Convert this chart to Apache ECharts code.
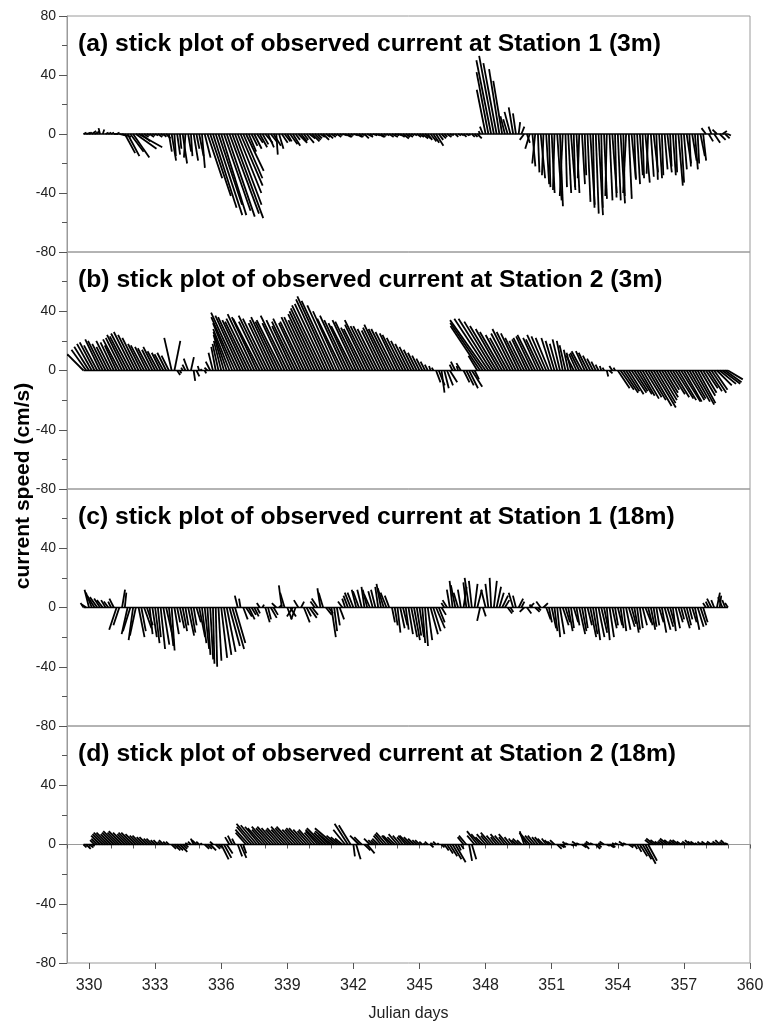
<!DOCTYPE html>
<html>
<head>
<meta charset="utf-8">
<title>stick plot</title>
<script src="https://cdn.jsdelivr.net/npm/echarts@6/dist/echarts.min.js"></script>
<style>
  html, body { margin: 0; padding: 0; background: #fff; }
  #chart { width: 775px; height: 1025px; }
</style>
</head>
<body>
<div id="chart"></div>
<script>
// sampling times (Julian day), one stick every 3 hours
const times = [];
for (let i = 0; i < 235; i++) times.push(329.75 + i * 0.125);

const titles = [
  "(a) stick plot of observed current at Station 1 (3m)",
  "(b) stick plot of observed current at Station 2 (3m)",
  "(c) stick plot of observed current at Station 1 (18m)",
  "(d) stick plot of observed current at Station 2 (18m)"
];

const dayTicks = [330, 333, 336, 339, 342, 345, 348, 351, 354, 357, 360];

// (a) Station 1, 3m : east (u) and north (v) components, cm/s, one row per day
const uA = [2, 3,
  2, 3, 2, 1, -1, 1, 2, 2,
  2, 3, 2, 4, 6, 7, 8, 9,
  11, 14, 16, 6, 3, 2, 3, 2,
  2, 3, 2, 2, 3, 2, 3, 1,
  2, 1, 3, -1, 2, 1, 3, 2,
  3, 2, 4, 10, 14, 16, 18, 16,
  17, 18, 19, 20, 21, 18, 16, 15,
  13, 12, 5, 4, 5, 4, 5, 4,
  5, 4, 4, 5, 1, 3, 4, 4,
  3, 5, 5, 3, 6, 4, 3, 5,
  4, 5, 4, 3, 3, 4, 3, 3,
  3, 2, 3, 2, 3, 4, 3, 2,
  3, 4, 3, 2, 3, 4, 2, 3,
  3, 4, 3, 2, 2, 3, 4, 3,
  3, 3, 4, 3, 3, 2, 2, 3,
  3, 4, 4, 3, 4, 4, 5, 3,
  3, 2, 3, 2, 1, 2, 2, 2,
  2, 2, 1, 2, 2, 3, -1, -2,
  -6, -8, -10, -10, -9, -7, -6, -3,
  -3, -4, -3, -2, 1, 2, -3, 2,
  -3, 2, -2, 1, 3, -1, 2, 1,
  2, -1, 3, 2, -2, 1, 2, 3,
  1, 2, -1, 2, 1, 2, 3, 1,
  2, 3, 1, 2, -1, 2, 3, 1,
  2, 3, 1, -2, 2, 3, 1, 2,
  2, 1, 3, -1, 2, 3, 1, 2,
  1, 2, 3, 1, 2, 1, 3, 2,
  2, 3, 1, 3, 2, 1, 3, 2,
  -3, 3, -2, 4, -3, 4, 3, 3,
  2];
const vA = [1, 1,
  1, 2, 1, 2, 4, 3, 1, 1,
  1, 0, 1, -1, -2, -13, -15, -12,
  -16, -10, -9, -5, -2, -1, -2, -1,
  -1, -2, -1, -2, -3, -12, -18, -15,
  -14, -10, -20, -16, -12, -15, -18, -10,
  -15, -23, -16, -30, -42, -50, -55, -48,
  -55, -52, -56, -54, -57, -48, -40, -35,
  -30, -25, -12, -8, -10, -6, -9, -7,
  -6, -9, -5, -8, -14, -10, -6, -5,
  -5, -7, -8, -4, -6, -5, -4, -6,
  -3, -5, -4, -3, -2, -4, -2, -3,
  -2, -1, -2, -1, -1, -2, -2, -1,
  -1, -2, -2, -1, -3, -2, -1, -1,
  -1, -2, -2, -1, -1, -2, -2, -1,
  -1, -2, -3, -2, -2, -1, -1, -2,
  -2, -3, -3, -4, -5, -6, -8, -4,
  -3, -2, -2, -1, -1, -2, -1, -1,
  -2, -1, -1, -2, -2, -3, 2, 5,
  30, 42, 50, 53, 48, 44, 36, 12,
  10, 15, 18, 14, 8, 5, -4, -6,
  -10, -22, -20, -26, -30, -28, -34, -36,
  -40, -38, -45, -49, -42, -36, -40, -38,
  -36, -40, -30, -34, -28, -46, -48, -50,
  -54, -55, -50, -44, -42, -45, -40, -43,
  -45, -47, -42, -40, -44, -31, -30, -34,
  -28, -30, -33, -27, -29, -26, -31, -30,
  -28, -24, -26, -22, -28, -26, -35, -33,
  -24, -20, -22, -18, -24, -20, -15, -18,
  4, -5, 5, -6, 3, -4, 2, -3,
  -1];

// (b) Station 2, 3m
const uB = [-11, -10,
  -10, -10, -10, -9, -10, -10, -9, -8,
  -10, -9, -8, -11, -11, -12, -12, -13,
  -13, -12, -11, -9, -9, -8, -8, -7,
  -8, -7, -6, -6, -6, -5, -5, 4,
  2, 1, -1, -2, -3, 2, 1, 2,
  -1, -1, 1, -2, -3, -3, -3, -4,
  -5, -7, -9, -11, -13, -16, -18, -17,
  -17, -16, -16, -17, -18, -17, -18, -16,
  -18, -17, -15, -16, -17, -16, -17, -15,
  -18, -16, -14, -16, -17, -15, -16, -17,
  -17, -16, -18, -19, -20, -21, -21, -22,
  -23, -22, -20, -18, -17, -17, -16, -15,
  -15, -16, -16, -14, -14, -15, -17, -15,
  -15, -14, -13, -14, -15, -14, -14, -13,
  -12, -12, -11, -10, -9, -8, -7, -6,
  -5, -4, -3, -2, -1, -1, 3, 4,
  2, 3, 4, 5, -2, -3, -1, -3,
  4, 5, 6, 7, 3, -6, -20, -22,
  -24, -23, -22, -20, -18, -16, -15, -13,
  -12, -13, -14, -13, -12, -11, -10, -10,
  -11, -11, -12, -10, -10, -11, -10, -9,
  -7, -6, -5, -5, -4, -4, -3, -3,
  -5, -5, -6, -7, -6, -6, -5, -4,
  -3, -2, -1, -1, 1, 2, -2, -1,
  8, 9, 10, 9, 10, 10, 9, 10,
  10, 11, 11, 12, 14, 15, 13, 12,
  11, 9, 8, 10, 11, 12, 12, 13,
  12, 12, 11, 12, 13, 12, 10, 9,
  8, 9, 10, 9, 10, 11, 12, 11,
  10];
const vB = [11, 14,
  16, 18, 19, 17, 21, 20, 18, 16,
  20, 19, 17, 21, 22, 24, 23, 25,
  26, 24, 22, 18, 17, 16, 15, 14,
  16, 13, 12, 11, 12, 10, 22, 20,
  -3, -2, 2, 4, 8, 9, -7, -4,
  3, 1, -2, 2, 6, 12, 16, 18,
  20, 24, 26, 28, 32, 36, 39, 37,
  36, 34, 33, 35, 38, 36, 35, 33,
  37, 35, 32, 34, 36, 33, 34, 32,
  37, 34, 30, 33, 35, 32, 33, 36,
  36, 34, 38, 40, 42, 44, 45, 48,
  50, 47, 44, 40, 35, 37, 34, 32,
  30, 34, 33, 29, 28, 31, 34, 30,
  30, 28, 27, 29, 31, 28, 28, 26,
  25, 24, 22, 20, 18, 16, 14, 12,
  10, 8, 6, 4, 3, 2, -8, -10,
  -15, -12, -10, -8, 4, 6, 3, 5,
  -8, -10, -12, -11, -6, 10, 30, 32,
  34, 35, 35, 33, 30, 28, 26, 24,
  22, 25, 28, 26, 25, 22, 20, 21,
  22, 23, 24, 22, 21, 24, 23, 22,
  22, 20, 18, 21, 20, 17, 14, 12,
  10, 11, 12, 13, 13, 12, 10, 8,
  6, 4, 3, 2, -4, -2, 3, 2,
  -12, -13, -15, -14, -16, -15, -14, -16,
  -17, -19, -18, -20, -24, -25, -22, -20,
  -18, -15, -13, -16, -18, -19, -20, -21,
  -21, -20, -19, -21, -23, -22, -17, -15,
  -12, -14, -15, -13, -10, -9, -9, -8,
  -6];

// (c) Station 1, 18m
const uC = [-2, -3,
  -3, -4, -5, -5, -4, -4, -3, -3,
  -2, -3, -5, -4, 2, 1, -4, -5,
  -3, -4, 4, 3, 5, 4, 2, 3,
  3, 2, 3, 4, 5, 3, 2, 3,
  2, 3, 3, 2, 4, 3, 2, 3,
  4, 3, 3, 2, 2, 1, 1, 2,
  4, 5, 6, 7, 8, 7, -2, -1,
  3, 4, 4, 3, 3, 2, -2, 1,
  3, 2, 4, 3, -3, 2, -2, -3,
  3, 4, -4, -3, -3, 2, 4, 3,
  5, 4, -3, -4, -2, -3, 4, 3,
  3, 2, 2, 3, -3, -2, -3, -4,
  -4, -3, -4, -3, -2, -3, -4, -3,
  -3, -2, -3, -4, -4, -3, 2, 2,
  2, 3, 3, 2, 3, 4, 4, 3,
  3, 2, 2, 3, 5, 5, 6, 4,
  3, -2, -3, -2, -2, -3, -3, -2,
  2, -2, -3, -2, 2, 3, -2, 2,
  -3, -2, -1, 2, 3, 3, 4, 3,
  3, 2, -3, -2, 3, 2, -3, 3,
  3, -2, 3, 2, -3, 3, 3, 2,
  3, 2, 2, 3, 4, 3, 3, 2,
  3, 2, 4, 3, 2, 3, 4, 3,
  3, 4, 4, 3, 2, 3, 3, 2,
  3, 2, 2, 3, 4, 3, 3, 2,
  2, 3, 4, 3, 3, 2, 2, 3,
  3, 4, 4, 3, 2, 3, 3, 2,
  4, 3, 2, 3, 3, 4, 4, 3,
  -2, -2, -3, -2, 2, 1, -3, -2,
  -2];
const vC = [3, 2,
  12, 10, 8, 7, 6, 5, 5, 4,
  4, 6, -15, -12, 12, 10, -18, -16,
  -22, -19, -20, -16, -14, -12, -18, -20,
  -24, -20, -28, -25, -22, -26, -29, -18,
  -10, -14, -16, -12, -19, -17, -12, -10,
  -20, -24, -28, -32, -35, -38, -40, -36,
  -34, -32, -30, -26, -28, -24, 8, 6,
  -8, -6, -8, -5, -6, -4, 3, 2,
  -10, -8, -7, -5, 3, 2, 15, 10,
  -8, -6, -6, -8, 5, 4, -10, -6,
  -7, -5, 4, 6, 13, 10, -5, -4,
  -20, -16, -12, -8, 4, 6, 8, 10,
  10, 12, 11, 12, 14, 12, 9, 11,
  12, 14, 16, 13, 10, 8, -10, -12,
  -17, -14, -12, -15, -18, -20, -22, -19,
  -20, -24, -26, -22, -18, -16, -14, -10,
  -5, 3, 5, 12, 18, 15, 10, 12,
  14, 17, 20, 18, 16, 12, -9, -6,
  12, 16, 20, 18, 14, 10, 8, 5,
  -4, -3, 10, 8, 6, 4, -3, -4,
  3, 2, -3, -2, 4, 3, -8, -10,
  -14, -16, -20, -18, -12, -10, -16, -14,
  -10, -12, -18, -16, -14, -12, -20, -18,
  -22, -20, -17, -15, -22, -20, -14, -12,
  -12, -14, -16, -15, -13, -11, -17, -15,
  -14, -12, -10, -12, -15, -13, -12, -10,
  -17, -15, -13, -11, -16, -14, -10, -8,
  -14, -12, -8, -10, -15, -13, -12, -10,
  3, 4, 6, 5, 10, 8, 7, 5,
  3];

// (d) Station 2, 18m
const uD = [2, 3,
  3, 2, -3, -4, -6, -7, -8, -8,
  -7, -8, -9, -8, -9, -8, -7, -8,
  -8, -7, -6, -6, -5, -5, -4, -4,
  -3, -3, -2, -3, -2, -2, 3, 4,
  4, 5, 3, 2, -2, -2, -2, -3,
  -2, -1, 3, 3, 4, -2, 3, 2,
  5, 5, 4, -3, -3, -2, 3, 4,
  2, -7, -9, -10, -12, -11, -10, -10,
  -9, -11, -10, -11, -10, -9, -10, -9,
  -11, -10, -11, -9, -9, -10, -10, -9,
  -8, -9, -7, -8, -10, -11, -8, -7,
  -11, -13, -7, -6, -5, -8, -9, -8,
  1, 3, -6, -5, 4, 5, -4, -3,
  -3, -4, -5, -6, -7, -5, -6, -5,
  -6, -5, -4, -5, -6, -5, -4, -3,
  -3, -2, -1, -2, 2, -2, -2, -1,
  2, 3, 4, 5, 6, 7, 2, 2,
  -4, -5, 2, 3, -5, -7, -6, -5,
  -6, -5, -7, -5, -4, -6, -5, -4,
  -6, -4, -3, -3, -4, -3, -3, -5,
  -6, -5, -5, -4, -4, -4, -3, -3,
  -3, -3, 3, 3, 2, -2, -2, 2,
  2, -3, -2, 3, 3, -2, -3, -2,
  3, 2, -2, -3, 2, 3, 2, -2,
  -2, 2, -3, -2, 3, 2, 2, 3,
  5, 6, 7, 6, -4, -5, -4, -3,
  -3, -4, -5, -4, -3, -4, -4, -3,
  -2, -3, -3, -3, -3, -2, -2, -2,
  -3, -2, -3, -2, -3, -3, -2, -3,
  -2];
const vD = [-2, -3,
  -2, -1, 3, 4, 6, 7, 8, 8,
  7, 8, 9, 8, 9, 8, 7, 8,
  8, 7, 6, 6, 5, 5, 4, 4,
  3, 3, 2, 3, 2, 2, -3, -4,
  -4, -5, -3, -2, 1, 2, 4, 3,
  2, 1, -3, -3, -4, 2, -3, -2,
  -10, -9, -6, 5, 6, 4, -8, -9,
  -6, 8, 10, 12, 14, 13, 12, 11,
  10, 12, 11, 12, 11, 10, 11, 10,
  12, 11, 12, 10, 10, 11, 11, 10,
  9, 10, 8, 9, 10, 11, 8, 7,
  9, 11, 6, 5, 4, 10, 14, 13,
  -8, -10, 6, 5, -4, -6, 4, 3,
  3, 4, 6, 7, 8, 6, 6, 5,
  7, 6, 5, 6, 6, 5, 4, 3,
  3, 2, 1, 2, -2, 1, 2, 1,
  -2, -4, -6, -8, -10, -12, -4, -3,
  5, 6, -11, -10, 6, 9, 7, 5,
  7, 6, 8, 6, 5, 7, 6, 5,
  7, 5, 4, 3, 4, 3, 9, 8,
  7, 6, 6, 5, 5, 4, 4, 3,
  2, 3, -3, -2, -2, 2, 1, -1,
  -1, 2, 1, -2, -3, 1, 2, 1,
  -3, -2, 1, 2, -1, -2, -2, 1,
  1, -1, 2, 1, -2, -1, -3, -5,
  -8, -10, -13, -11, 3, 4, 3, 2,
  2, 3, 4, 3, 2, 3, 3, 2,
  1, 2, 3, 2, 2, 1, 2, 1,
  2, 1, 2, 1, 2, 3, 2, 3,
  1];

const panels = [[uA, vA], [uB, vB], [uC, vC], [uD, vD]];

const gridTop = [16, 252, 489, 726];
const gridH = [236, 237, 237, 237];
const axisGray = "#9a9a9a";

// each stick starts on the zero line at time t and points along (u, v),
// with the same pixel scale in both directions
function renderStick(params, api) {
  const base = api.coord([api.value(0), 0]);
  const tip = api.coord([api.value(0), api.value(2)]);
  const unit = api.size([0, 1])[1];
  return {
    type: "line",
    shape: { x1: base[0], y1: base[1], x2: base[0] + api.value(1) * unit, y2: tip[1] },
    style: { stroke: "#000", lineWidth: 1.8 }
  };
}

const grid = [], xAxis = [], yAxis = [], series = [], title = [];

panels.forEach(function (p, k) {
  grid.push({
    left: 67, width: 683, top: gridTop[k], height: gridH[k],
    show: true, borderColor: axisGray, borderWidth: 1, backgroundColor: "transparent"
  });
  title.push({
    text: titles[k], left: 78, top: gridTop[k] + 16, padding: 0,
    textStyle: { fontFamily: "Liberation Sans, Arial, sans-serif", fontWeight: "bold", fontSize: 24.7, color: "#000" }
  });
  xAxis.push({
    type: "value", gridIndex: k, min: 329, max: 360, interval: 1,
    axisLine: { show: k === 3, lineStyle: { color: axisGray } },
    axisTick: { show: k === 3, length: 4, lineStyle: { color: "#555" } },
    axisLabel: { show: false },
    splitLine: { show: false }
  });
  yAxis.push({
    type: "value", gridIndex: k, min: -80, max: 80, interval: 40,
    axisLine: { show: true, lineStyle: { color: axisGray } },
    axisTick: { show: true, length: 8, lineStyle: { color: "#555" } },
    minorTick: { show: true, splitNumber: 2, length: 5, lineStyle: { color: "#555" } },
    axisLabel: {
      margin: 11, fontSize: 14, color: "#222", fontFamily: "Liberation Sans, Arial, sans-serif",
      formatter: function (val) { return (k > 0 && val === 80) ? "" : String(val); }
    },
    splitLine: { show: false }
  });

  const data = times.map(function (t, i) { return [t, p[0][i], p[1][i]]; });
  series.push({
    type: "line", xAxisIndex: k, yAxisIndex: k, symbol: "none", silent: true,
    lineStyle: { color: "#000", width: 1.3 },
    data: [[times[0], 0], [times[times.length - 1], 0]],
    z: 3
  });
  series.push({
    type: "custom", xAxisIndex: k, yAxisIndex: k, silent: true,
    renderItem: renderStick, encode: { x: 0, y: 2 }, clip: true,
    data: data, z: 2
  });
});

// bottom axis: long ticks and labels every 3 days
xAxis.push({
  type: "value", gridIndex: 3, min: 329, max: 360, position: "bottom",
  axisLine: { show: false },
  axisTick: { show: true, length: 6, customValues: dayTicks, lineStyle: { color: "#555" } },
  axisLabel: {
    show: true, customValues: dayTicks, margin: 15, fontSize: 16, color: "#222",
    fontFamily: "Liberation Sans, Arial, sans-serif"
  },
  splitLine: { show: false },
  name: "Julian days", nameLocation: "middle", nameGap: 43,
  nameTextStyle: { fontSize: 16, color: "#222", fontFamily: "Liberation Sans, Arial, sans-serif" }
});

const chart = echarts.init(document.getElementById("chart"));
chart.setOption({
  animation: false,
  backgroundColor: "#fff",
  title: title,
  grid: grid,
  xAxis: xAxis,
  yAxis: yAxis,
  series: series,
  graphic: [{
    type: "text", rotation: Math.PI / 2, x: 23, y: 486,
    style: {
      text: "current speed (cm/s)", fill: "#000",
      font: "bold 21px Liberation Sans, Arial, sans-serif",
      textAlign: "center", textVerticalAlign: "middle"
    }
  }]
});
</script>
</body>
</html>
